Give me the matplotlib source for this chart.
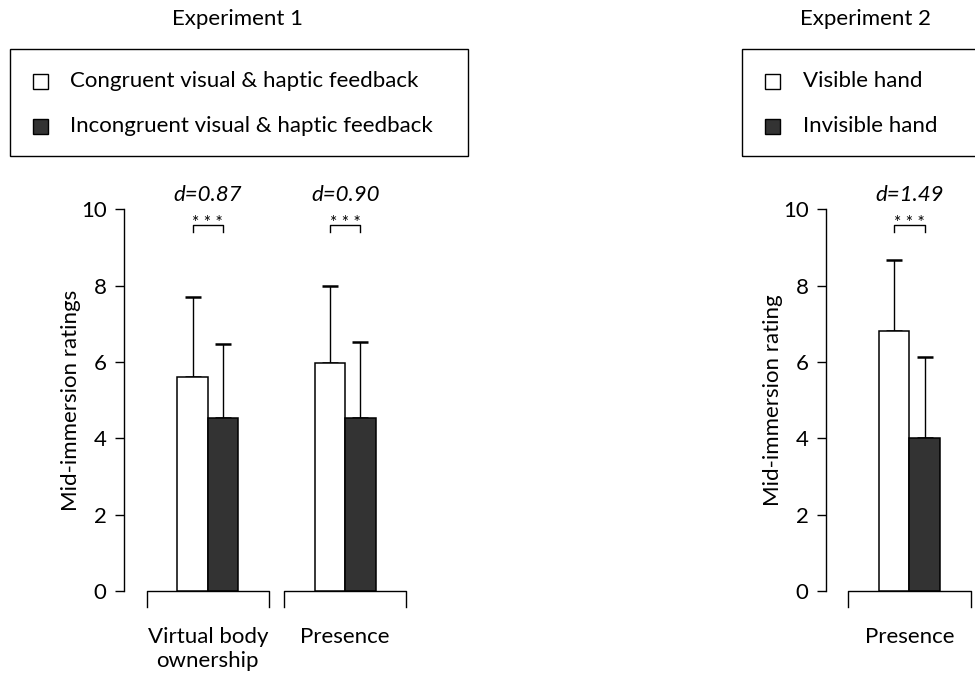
import matplotlib.pyplot as plt
from matplotlib.patches import Rectangle

plt.rcParams['font.family'] = ['Lato', 'DejaVu Sans']

# Experiment 1: two measures, congruent vs incongruent feedback
exp1_labels = ["Virtual body\nownership", "Presence"]
exp1_congruent = [5.61, 5.97]
exp1_congruent_sd = [2.09, 2.01]
exp1_incongruent = [4.52, 4.52]
exp1_incongruent_sd = [1.95, 2.00]
exp1_effect = ["d=0.87", "d=0.90"]

# Experiment 2: presence only, visible vs invisible hand
exp2_labels = ["Presence"]
exp2_visible = [6.80]
exp2_visible_sd = [1.86]
exp2_invisible = [4.00]
exp2_invisible_sd = [2.13]
exp2_effect = ["d=1.49"]

W, H = 975, 677
DARK = "#333333"
FS = 16
BAR_W = 0.222


def px_axes(fig, x0, x1, y_top, y_bot):
    return fig.add_axes([x0 / W, (H - y_bot) / H, (x1 - x0) / W, (y_bot - y_top) / H])


def draw_panel(ax, labels, light, light_sd, dark, dark_sd, effects, ylabel, xlim):
    xs = list(range(len(labels)))
    ax.set_xlim(*xlim)
    ax.set_ylim(0, 10)
    for s in ["top", "right", "bottom"]:
        ax.spines[s].set_visible(False)
    ax.spines["left"].set_linewidth(1.0)
    ax.set_yticks([0, 2, 4, 6, 8, 10])
    ax.tick_params(axis="y", length=6.5, width=1.0, labelsize=FS, pad=6)
    ax.set_xticks([])
    ax.set_ylabel(ylabel, fontsize=FS, labelpad=0)

    xl = [x - BAR_W / 2 for x in xs]
    xr = [x + BAR_W / 2 for x in xs]
    ax.bar(xl, light, width=BAR_W, color="white", edgecolor="black", linewidth=1.1, zorder=3)
    ax.bar(xr, dark, width=BAR_W, color=DARK, edgecolor="black", linewidth=1.1, zorder=3)
    for xp, m, sd in zip(xl + xr, light + dark, light_sd + dark_sd):
        ax.errorbar([xp], [m], yerr=[[0], [sd]], fmt="none", ecolor="black",
                    elinewidth=1.0, capsize=6, capthick=1.8, zorder=2)

    for x, lab, eff in zip(xs, labels, effects):
        # group baseline with downward end ticks
        ax.plot([x - 0.445, x - 0.445, x + 0.445, x + 0.445], [-0.42, 0, 0, -0.42],
                color="black", lw=1.0, clip_on=False)
        ax.text(x, -0.95, lab, ha="center", va="top", fontsize=FS, linespacing=1.25,
                clip_on=False)
        # significance bracket between the two bars
        ax.plot([x - BAR_W / 2, x - BAR_W / 2, x + BAR_W / 2, x + BAR_W / 2],
                [9.4, 9.6, 9.6, 9.4], color="black", lw=1.0, clip_on=False)
        ax.text(x, 9.5, "* * *", ha="center", va="baseline", fontsize=12.5, clip_on=False)
        ax.text(x, 10.22, eff, ha="center", va="baseline", fontsize=FS, style="italic",
                clip_on=False)


def draw_legend(fig, x0, x1, title_x, entries):
    fig.text(title_x / W, 1 - 19 / H, entries[0], ha="center", va="center", fontsize=FS)
    fig.patches.append(Rectangle((x0 / W, 1 - 156 / H), (x1 - x0) / W, 107 / H,
                                 transform=fig.transFigure, fill=False,
                                 edgecolor="black", lw=1.0))
    for (label, color), yc in zip(entries[1:], [81, 126]):
        fig.patches.append(Rectangle(((x0 + 23) / W, 1 - (yc + 7.5) / H), 15 / W, 15 / H,
                                     transform=fig.transFigure, facecolor=color,
                                     edgecolor="black", lw=1.0))
        fig.text((x0 + 61) / W, 1 - yc / H, label, ha="left", va="center", fontsize=FS)


fig = plt.figure(figsize=(W / 100, H / 100), dpi=100)

ax1 = px_axes(fig, 124, 420, 209.3, 591)
draw_panel(ax1, exp1_labels, exp1_congruent, exp1_congruent_sd,
           exp1_incongruent, exp1_incongruent_sd, exp1_effect,
           "Mid-immersion ratings", (-0.61, 1.544))

ax2 = px_axes(fig, 826, 975, 209.3, 591)
draw_panel(ax2, exp2_labels, exp2_visible, exp2_visible_sd,
           exp2_invisible, exp2_invisible_sd, exp2_effect,
           "Mid-immersion rating", (-0.608, 0.477))

draw_legend(fig, 9.5, 467.5, 238,
            ["Experiment 1", ("Congruent visual & haptic feedback", "white"),
             ("Incongruent visual & haptic feedback", DARK)])
draw_legend(fig, 742, 1010, 865,
            ["Experiment 2", ("Visible hand", "white"), ("Invisible hand", DARK)])

fig.savefig("out.png", dpi=100)
